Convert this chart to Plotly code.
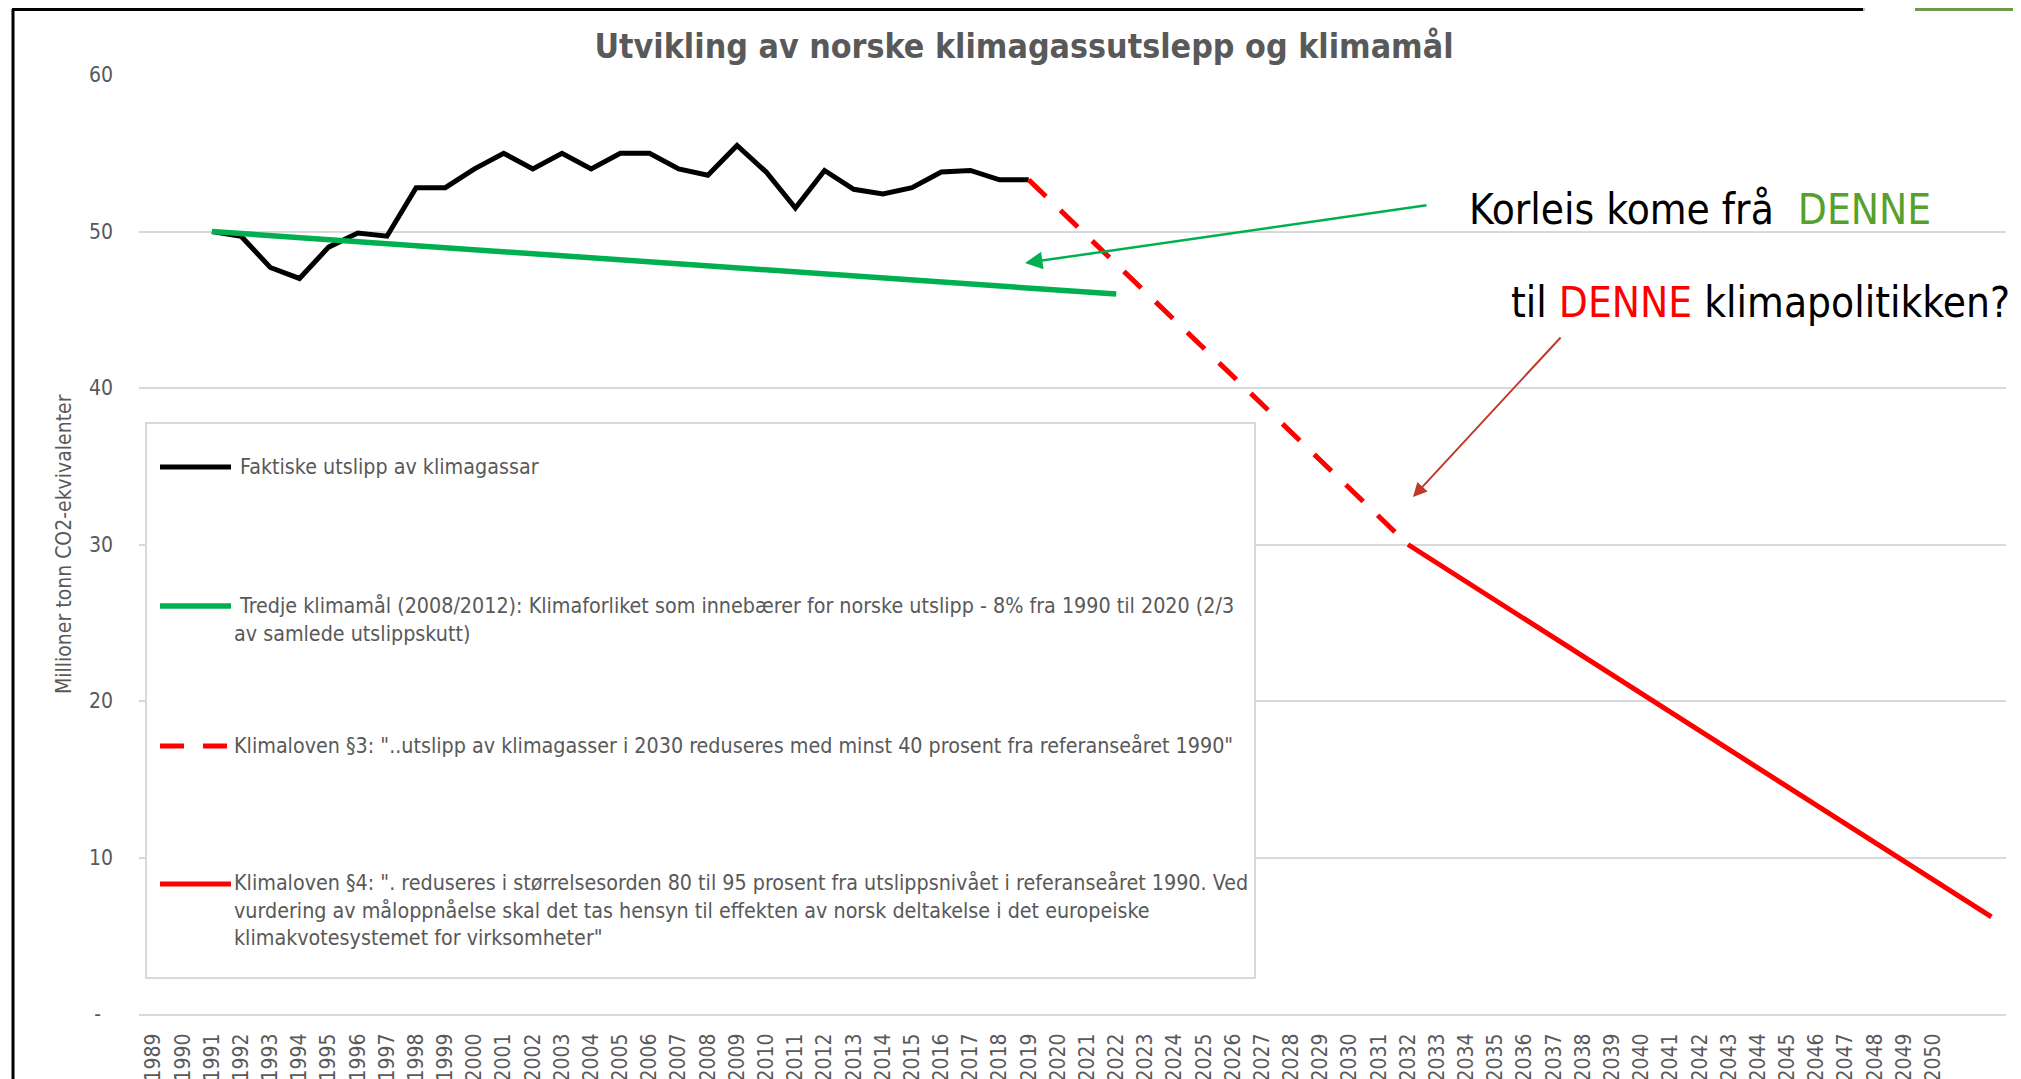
import plotly.graph_objects as go

# ---------------- data ----------------
years_actual = list(range(1991, 2020))
utslipp = [50.0, 49.7, 47.7, 47.0, 49.0, 49.9, 49.7, 52.8, 52.8, 54.0,
           55.0, 54.0, 55.0, 54.0, 55.0, 55.0, 54.0, 53.6, 55.5, 53.8,
           51.5, 53.9, 52.7, 52.4, 52.8, 53.8, 53.9, 53.3, 53.3]

years_maal3 = [1991, 2022]
maal3 = [50.0, 46.0]

years_par3 = [2019, 2032]
par3 = [53.3, 30.0]

years_par4 = [2032, 2052]
par4 = [30.0, 6.2]

tick_years = list(range(1989, 2051))
tick_labels = [str(y) for y in tick_years]
y_ticks = [0, 10, 20, 30, 40, 50, 60]
y_ticklabels = ["-\u00a0\u00a0", "10", "20", "30", "40", "50", "60"]

legend_names = [
    "\u00a0Faktiske utslipp av klimagassar",
    "\u00a0Tredje klimamål (2008/2012): Klimaforliket som innebærer for norske utslipp - 8% fra 1990 til 2020 (2/3<br>av samlede utslippskutt)",
    'Klimaloven §3: "..utslipp av klimagasser i 2030 reduseres med minst 40 prosent fra referanseåret 1990"',
    'Klimaloven §4: ". reduseres i størrelsesorden 80 til 95 prosent fra utslippsnivået i referanseåret 1990. Ved<br>vurdering av måloppnåelse skal det tas hensyn til effekten av norsk deltakelse i det europeiske<br>klimakvotesystemet for virksomheter"',
]

title_text = "Utvikling av norske klimagassutslepp og klimamål"
y_title = "Millioner tonn CO2-ekvivalenter"

# ---------------- layout geometry (page pixel coords) ----------------
FIG_W, FIG_H = 2021, 1079
OFF = 8  # default page body margin
PL, PR, PT, PB = 139, 2006, 75, 1014  # plot area in page pixels
PW = PR - PL
PH = PB - PT

def PX(px):
    return (px - PL) / PW

def PY(py):
    return (PB - py) / PH

FONT = "DejaVu Sans Condensed, DejaVu Sans, sans-serif"
GRAY = "#595959"
BLACK = "#000000"
GREEN = "#00b050"
RED = "#ff0000"
LEG_FS = 21.3

fig = go.Figure()
fig.add_trace(go.Scatter(x=years_actual, y=utslipp, mode="lines",
                         line=dict(color=BLACK, width=5), showlegend=False))
fig.add_trace(go.Scatter(x=years_maal3, y=maal3, mode="lines",
                         line=dict(color=GREEN, width=5.5), showlegend=False))
fig.add_trace(go.Scatter(x=years_par3, y=par3, mode="lines",
                         line=dict(color=RED, width=5, dash="24px,20px"), showlegend=False))
fig.add_trace(go.Scatter(x=years_par4, y=par4, mode="lines",
                         line=dict(color=RED, width=5), showlegend=False))

shapes = []
annotations = []

# manual legend box
shapes.append(dict(type="rect", xref="paper", yref="paper",
                   x0=PX(146), x1=PX(1255), y0=PY(978), y1=PY(423),
                   fillcolor="white", line=dict(color="#d9d9d9", width=2), layer="above"))
leg_y = [467, 606, 746, 884]
leg_center = [467, 619.5, 746, 909.5]
for i, name in enumerate(legend_names):
    if i == 0:
        shapes.append(dict(type="line", xref="paper", yref="paper", x0=PX(160), x1=PX(231),
                           y0=PY(leg_y[i]), y1=PY(leg_y[i]), line=dict(color=BLACK, width=5), layer="above"))
    elif i == 1:
        shapes.append(dict(type="line", xref="paper", yref="paper", x0=PX(160), x1=PX(231),
                           y0=PY(leg_y[i]), y1=PY(leg_y[i]), line=dict(color=GREEN, width=5.5), layer="above"))
    elif i == 2:
        for a, b in [(160, 184), (203, 227)]:
            shapes.append(dict(type="line", xref="paper", yref="paper", x0=PX(a), x1=PX(b),
                               y0=PY(leg_y[i]), y1=PY(leg_y[i]), line=dict(color=RED, width=5), layer="above"))
    else:
        shapes.append(dict(type="line", xref="paper", yref="paper", x0=PX(160), x1=PX(231),
                           y0=PY(leg_y[i]), y1=PY(leg_y[i]), line=dict(color=RED, width=5), layer="above"))
    annotations.append(dict(text=name, xref="paper", yref="paper", x=PX(232), y=PY(leg_center[i]),
                            xanchor="left", yanchor="middle", align="left", showarrow=False,
                            font=dict(family=FONT, size=LEG_FS, color=GRAY)))

# frame decorations
shapes.append(dict(type="line", xref="paper", yref="paper", x0=PX(13), x1=PX(13),
                   y0=PY(9), y1=PY(1095), line=dict(color=BLACK, width=3)))
shapes.append(dict(type="line", xref="paper", yref="paper", x0=PX(12), x1=PX(1863),
                   y0=PY(9.5), y1=PY(9.5), line=dict(color=BLACK, width=3)))
shapes.append(dict(type="line", xref="paper", yref="paper", x0=PX(1864), x1=PX(1864),
                   y0=PY(7), y1=PY(11), line=dict(color="#bfbfbf", width=2)))
shapes.append(dict(type="rect", xref="paper", yref="paper", x0=PX(1915), x1=PX(2035),
                   y0=PY(11), y1=PY(6), fillcolor="#6e9b4b", line=dict(width=0)))

# y-axis title
annotations.append(dict(text=y_title, xref="paper", yref="paper", x=PX(64), y=PY(544),
                        textangle=-90, xanchor="center", yanchor="middle", showarrow=False,
                        font=dict(family=FONT, size=21, color=GRAY)))

# callout texts
annotations.append(dict(text="Korleis kome frå\u00a0 <span style='color:#56a12b'>DENNE</span>",
                        xref="paper", yref="paper", x=PX(1467), y=PY(210),
                        xanchor="left", yanchor="middle", showarrow=False,
                        font=dict(family=FONT, size=42, color=BLACK)))
annotations.append(dict(text="til <span style='color:#ff0000'>DENNE</span> klimapolitikken?",
                        xref="paper", yref="paper", x=PX(1509), y=PY(302),
                        xanchor="left", yanchor="middle", showarrow=False,
                        font=dict(family=FONT, size=42, color=BLACK)))

# arrows
annotations.append(dict(text="", xref="paper", yref="paper", x=PX(1025), y=PY(263),
                        ax=1428 - 1025, ay=205 - 263, showarrow=True, arrowhead=2,
                        arrowsize=1.4, arrowwidth=2.5, arrowcolor=GREEN, standoff=0))
annotations.append(dict(text="", xref="paper", yref="paper", x=PX(1413), y=PY(497),
                        ax=1562 - 1413, ay=336 - 497, showarrow=True, arrowhead=2,
                        arrowsize=1.4, arrowwidth=2, arrowcolor="#c0392b", standoff=0))

fig.update_layout(
    width=FIG_W, height=FIG_H,
    margin=dict(l=PL - OFF, r=FIG_W - (PR - OFF), t=PT - OFF, b=FIG_H - (PB - OFF), autoexpand=False),
    paper_bgcolor="white", plot_bgcolor="white",
    showlegend=False,
    title=dict(text=title_text, x=(1024 - OFF) / FIG_W, xanchor="center", xref="container",
               y=1 - (46 - OFF) / FIG_H, yanchor="middle",
               font=dict(family=FONT, size=33.7, color=GRAY, weight="bold")),
    shapes=shapes,
    annotations=annotations,
    xaxis=dict(range=[1988.5, 2052.5], tickmode="array", tickvals=tick_years, ticktext=tick_labels,
               tickangle=-90, showgrid=False, zeroline=False, showline=True, linecolor="#d9d9d9",
               linewidth=2, ticks="", ticklabelstandoff=9, automargin=False,
               tickfont=dict(family=FONT, size=21, color=GRAY)),
    yaxis=dict(range=[0, 60], tickmode="array", tickvals=y_ticks, ticktext=y_ticklabels,
               showgrid=True, gridcolor="#d9d9d9", gridwidth=2, zeroline=False, showline=False,
               ticks="", ticklabelstandoff=25, automargin=False,
               tickfont=dict(family=FONT, size=21, color=GRAY)),
)

fig.write_html("out.html")
